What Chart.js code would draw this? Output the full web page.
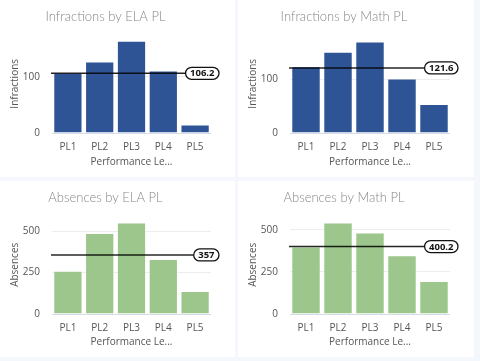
<!DOCTYPE html>
<html>
<head>
<meta charset="utf-8">
<script src="https://cdn.jsdelivr.net/npm/chart.js@4"></script>
<style>
  html, body { margin: 0; padding: 0; background: #f4f7fb; }
  body { width: 480px; height: 361px; position: relative; overflow: hidden; }
  .panel { position: absolute; background: #fff; }
  .panel canvas { display: block; }
</style>
</head>
<body>
<div class="panel" style="left:0;top:0;width:235px;height:177px"><canvas id="c1"></canvas></div>
<div class="panel" style="left:238px;top:0;width:236px;height:177px"><canvas id="c2"></canvas></div>
<div class="panel" style="left:0;top:181px;width:235px;height:176px"><canvas id="c3"></canvas></div>
<div class="panel" style="left:238px;top:181px;width:236px;height:176px"><canvas id="c4"></canvas></div>
<script>
(function () {
  'use strict';

  // Data
  var levels = ['PL1', 'PL2', 'PL3', 'PL4', 'PL5'];
  var infractionsEla = [107, 127, 164, 111, 15];
  var infractionsMath = [125, 152, 171, 102, 54];
  var absencesEla = [262, 490, 554, 333, 139];
  var absencesMath = [400, 543, 484, 349, 196];
  var averages = [106.2, 121.6, 357, 400.2];

  var BLUE = '#2f5496';
  var GREEN = '#9cc68b';
  var FONT = "'Open Sans', 'Noto Sans', sans-serif";

  // Average line with a pill label at the right
  var avgLine = {
    id: 'avgLine',
    afterDatasetsDraw: function (chart, args, opts) {
      var ctx = chart.ctx;
      var area = chart.chartArea;
      var y = chart.scales.y.getPixelForValue(opts.value);
      var text = String(opts.value);
      ctx.save();
      ctx.font = 'bold 9.5px ' + FONT;
      var w = ctx.measureText(text).width + 9;
      var h = 12;
      var right = area.right + 8;
      var left = right - w;

      ctx.strokeStyle = 'rgba(0,0,0,0.85)';
      ctx.lineWidth = 1.5;
      ctx.beginPath();
      ctx.moveTo(area.left - 1, y);
      ctx.lineTo(left, y);
      ctx.stroke();

      ctx.beginPath();
      ctx.roundRect(left, y - h / 2, w, h, h / 2);
      ctx.fillStyle = '#fff';
      ctx.fill();
      ctx.lineWidth = 1.3;
      ctx.strokeStyle = '#111';
      ctx.stroke();

      ctx.fillStyle = '#111';
      ctx.textAlign = 'center';
      ctx.textBaseline = 'middle';
      ctx.fillText(text, left + w / 2, y + 0.5);
      ctx.restore();
    }
  };

  function makeChart(id, title, yTitle, values, color, max, step, avg) {
    var canvas = document.getElementById(id);
    var box = canvas.parentNode;
    var panelH = box.clientHeight;

    return new Chart(canvas.getContext('2d'), {
      type: 'bar',
      data: {
        labels: levels,
        datasets: [{
          data: values,
          backgroundColor: color,
          borderColor: 'rgba(255,255,255,0.35)',
          borderWidth: 1,
          barPercentage: 0.92,
          categoryPercentage: 1
        }]
      },
      options: {
        responsive: true,
        maintainAspectRatio: false,
        animation: false,
        layout: { padding: { left: 0, right: 24, top: 0, bottom: 0 } },
        plugins: {
          legend: { display: false },
          tooltip: { enabled: false },
          title: {
            display: true,
            text: title,
            color: '#888',
            font: { family: "Lato, " + FONT, size: 13, weight: '300' },
            padding: { top: 9, bottom: 10 }
          },
          avgLine: { value: avg }
        },
        scales: {
          x: {
            grid: { display: false, drawTicks: false },
            border: { display: false },
            ticks: { color: '#555', font: { family: FONT, size: 10 }, padding: 8 },
            title: {
              display: true,
              text: 'Performance Le...',
              color: '#555',
              font: { family: FONT, size: 10 },
              padding: { top: 0, bottom: 9 }
            },
            afterFit: function (s) { s.height = panelH - 133; }
          },
          y: {
            min: 0,
            max: max,
            grid: {
              drawTicks: false,
              color: function (c) { return c.tick && c.tick.value === 0 ? '#d3dbe8' : '#ededed'; }
            },
            border: { display: false },
            ticks: {
              stepSize: step,
              color: '#555',
              font: { family: FONT, size: 10 },
              padding: 12
            },
            afterBuildTicks: function (s) {
              s.ticks = s.ticks.filter(function (t) { return t.value % step === 0; });
            },
            title: {
              display: true,
              text: yTitle,
              color: '#555',
              font: { family: FONT, size: 10 },
              padding: { top: 9, bottom: 0 }
            },
            afterFit: function (s) { s.width = 52; }
          }
        }
      },
      plugins: [avgLine]
    });
  }

  makeChart('c1', 'Infractions by ELA PL', 'Infractions', infractionsEla, BLUE, 175, 100, averages[0]);
  makeChart('c2', 'Infractions by Math PL', 'Infractions', infractionsMath, BLUE, 184, 100, averages[1]);
  makeChart('c3', 'Absences by ELA PL', 'Absences', absencesEla, GREEN, 595, 250, averages[2]);
  makeChart('c4', 'Absences by Math PL', 'Absences', absencesMath, GREEN, 584, 250, averages[3]);
})();
</script>
</body>
</html>
